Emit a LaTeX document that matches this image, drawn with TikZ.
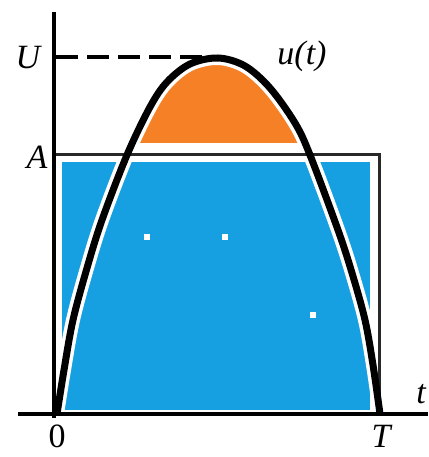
\documentclass[tikz,border=0pt]{standalone}
\usepackage{fontspec}
\setmainfont{Liberation Serif}
\definecolor{fillblue}{RGB}{22,160,225}
\definecolor{fillorange}{RGB}{246,128,38}
\definecolor{bordergray}{RGB}{40,40,40}
\tikzset{
  axisline/.style={line width=4pt, black},
  curveline/.style={line width=7pt, black, line join=round},
  haloline/.style={line width=14pt, white, line join=round},
  borderline/.style={line width=3pt, bordergray},
  dashline/.style={line width=4pt, black, dash pattern=on 22pt off 9pt},
  lbl/.style={font=\fontsize{34}{36}\selectfont\itshape, inner sep=0pt},
  numlbl/.style={font=\fontsize{34}{36}\selectfont, inner sep=0pt},
  speck/.style={fill=white}
}
\newcommand{\humpcurve}{plot[smooth, tension=0.55] coordinates {(57,414) (64,370) (73,320) (87,268) (102,220) (127,155) (150,107) (167,82) (190,64) (218,58) (245,66) (270,88) (295,123) (310,155) (338,230) (352,273) (365,320) (373,365) (380,414)}}
\begin{document}
\begin{tikzpicture}[x=1pt,y=-1pt]
\useasboundingbox (0,0) rectangle (428,457);
% blue rectangle
\fill[fillblue] (62,162) rectangle (370,410);
% orange cap
\begin{scope}
  \clip (0,0) rectangle (428,143);
  \fill[fillorange] \humpcurve -- cycle;
\end{scope}
% white halo round the curve
\draw[haloline] \humpcurve;
% specks
\fill[speck] (144,234) rectangle (150,240);
\fill[speck] (222,234) rectangle (228,240);
\fill[speck] (310,312) rectangle (316,318);
% rectangle border
\coordinate (rtl) at (54,155);
\coordinate (rtr) at (379,155);
\coordinate (rbr) at (379,414);
\draw[borderline] (rtl) -- (rtr) -- (rbr);
% axes
\coordinate (yb) at (54,418);
\coordinate (yt) at (54,12);
\coordinate (xl) at (18,414);
\coordinate (xr) at (428,414);
\draw[axisline] (yb) -- (yt);
\draw[axisline] (xl) -- (xr);
% dashed level U
\coordinate (du) at (56,57);
\coordinate (dp) at (212,57);
\draw[dashline] (du) -- (dp);
% curve
\draw[curveline] \humpcurve;
% labels
\node[lbl] (U) at (28,58) {U};
\node[lbl] (A) at (37,157) {A};
\node[lbl] (ut) at (302,56) {u(t)};
\node[lbl] (t) at (421,394) {t};
\node[numlbl, anchor=base] (zero) at (57,447) {0};
\node[lbl, anchor=base] (T) at (381,447) {T};
\end{tikzpicture}
\end{document}
